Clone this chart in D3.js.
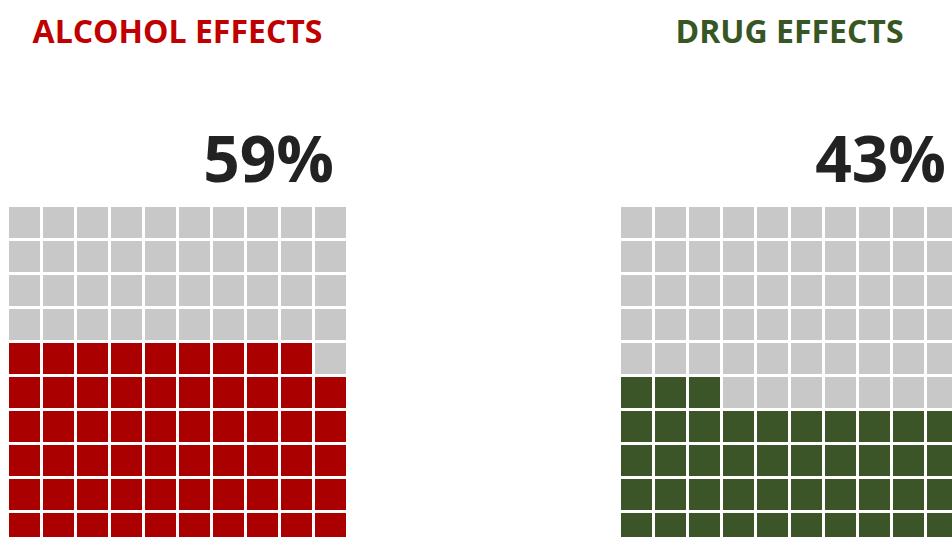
<!DOCTYPE html>
<html>
<head>
<meta charset="utf-8">
<script src="https://cdn.jsdelivr.net/npm/d3@7"></script>
<style>
  body { margin: 0; background: #fff; }
  svg { display: block; }
  text { font-family: "Open Sans", "Noto Sans", sans-serif; font-weight: bold; }
</style>
</head>
<body>
<svg id="chart"></svg>
<script>
// waffle data
var titles = ["ALCOHOL EFFECTS", "DRUG EFFECTS"];
var percents = [59, 43];
var labels = ["59%", "43%"];

var width = 952, height = 537;
var fillColors = ["#ab0000", "#3b5428"];
var titleColors = ["#c00000", "#375623"];
var emptyColor = "#c8c8c8";

var chart = d3.select("#chart")
    .attr("width", width)
    .attr("height", height);

// where each waffle sits (left edge of the grid)
var gridLeft = [9, 621],
    gridTop = 207,
    gridSize = 337;

titles.forEach(function(t, i){
  var g = chart.append("g")
      .attr("transform", "translate(" + gridLeft[i] + "," + gridTop + ")");

  var xScale = d3.scaleBand()
      .domain(d3.range(10))
      .range([0, gridSize])
      .paddingInner(3/34);

  var yScale = d3.scaleBand()
      .domain(d3.range(10))
      .range([0, gridSize])
      .paddingInner(3/34);

  // cells fill from bottom-left, row by row
  var cells = d3.range(100).map(function(k){
    return { col: k % 10, row: 9 - Math.floor(k / 10), on: k < percents[i] };
  });

  g.selectAll("rect")
      .data(cells)
    .enter().append("rect")
      .attr("x", function(d){ return xScale(d.col); })
      .attr("y", function(d){ return yScale(d.row); })
      .attr("width", xScale.bandwidth())
      .attr("height", yScale.bandwidth())
      .attr("fill", function(d){ return d.on ? fillColors[i] : emptyColor; });

  // title
  chart.append("text")
      .attr("x", gridLeft[i] + gridSize / 2)
      .attr("y", 43)
      .attr("text-anchor", "middle")
      .attr("fill", titleColors[i])
      .style("font-size", "32px")
      .text(t);

  // percent label
  chart.append("text")
      .attr("x", gridLeft[i] + gridSize - 12)
      .attr("y", 182)
      .attr("text-anchor", "end")
      .attr("fill", "#222")
      .style("font-size", "64px")
      .text(labels[i]);
});
</script>
</body>
</html>
